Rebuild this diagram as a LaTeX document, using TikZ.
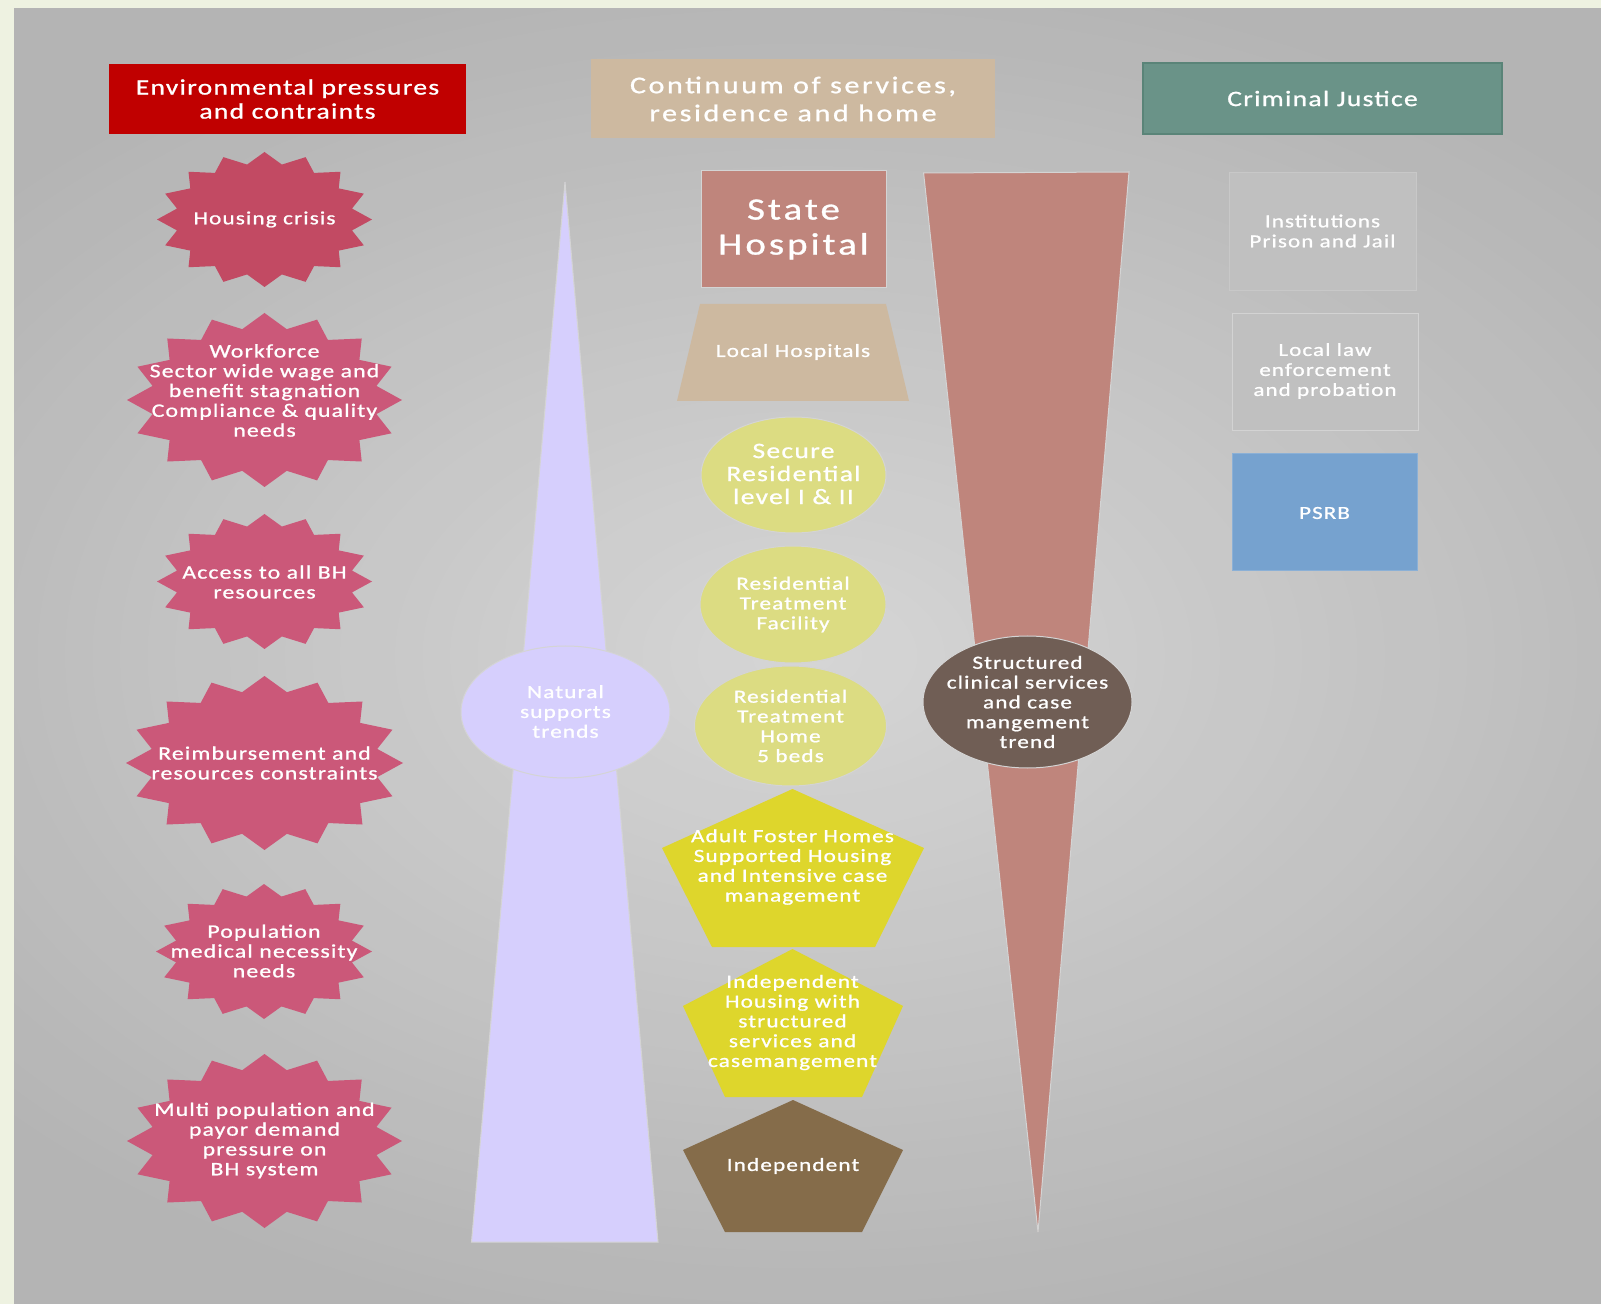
\documentclass[tikz,border=0pt]{standalone}
\usepackage{fontspec}
\setmainfont{Carlito}[FakeStretch=1.25, LetterSpace=6, FakeBold=1]
\usetikzlibrary{shapes.geometric}
\definecolor{framec}{RGB}{238,242,225}
\definecolor{bgin}{RGB}{214,214,214}
\definecolor{bgout}{RGB}{180,180,180}
\definecolor{hdrred}{RGB}{192,0,0}
\definecolor{tanc}{RGB}{205,185,160}
\definecolor{tealc}{RGB}{106,147,136}
\definecolor{tealb}{RGB}{90,132,120}
\definecolor{staterc}{RGB}{191,133,124}
\definecolor{ellyc}{RGB}{220,220,130}
\definecolor{pentyc}{RGB}{222,214,44}
\definecolor{brownc}{RGB}{133,108,74}
\definecolor{structc}{RGB}{112,94,85}
\definecolor{lavc}{RGB}{214,207,253}
\definecolor{psrbc}{RGB}{118,162,207}
\definecolor{stardk}{RGB}{194,74,99}
\definecolor{starc}{RGB}{203,88,121}
\definecolor{boxg}{RGB}{192,192,192}
\definecolor{boxb}{RGB}{200,200,200}
\newcommand\mystarshape[5]{% style, cx, cy, rx, ry
  \fill[#1] ({#2},{#3-#5})
    \foreach \k [evaluate=\k as \rr using {1-0.17*mod(\k,2)}] in {1,...,31} {
      -- ({#2+\rr*#4*sin(11.25*\k)},{#3-\rr*#5*cos(11.25*\k)})
    } -- cycle;
}
\tikzset{
  txt/.style={text=white, align=center, inner sep=0pt, font=\fontsize{9.3}{9.9}\selectfont},
  hdrtxt/.style={txt, font=\fontsize{11}{12}\selectfont},
  edgeline/.style={draw=black!17, line width=0.5pt},
}
\begin{document}
\begin{tikzpicture}[x=0.5pt, y=-0.5pt]
\useasboundingbox (0,0) rectangle (1601,1304);
% background
\begin{scope}
\clip (14,8) rectangle (1601,1304);
\fill[bgout] (14,8) rectangle (1601,1304);
\foreach \i [evaluate=\i as \d using {1-\i/40}, evaluate=\i as \p using {2.5*\i}] in {0,...,39}
  \fill[bgin!\p!bgout] (807.5,656) ellipse [x radius={1100*\d}, y radius={700*\d}];
\end{scope}
\fill[framec] (0,0) rectangle (1601,8);
\fill[framec] (0,0) rectangle (14,1304);

% headers
\fill[hdrred] (109,64) rectangle (466,134);
\node[hdrtxt] (h1) at (287.5,99) {Environmental pressures\\and contraints};
\fill[tanc] (591,59) rectangle (995,138);
\node[hdrtxt, font=\fontsize{12}{14}\selectfont\addfontfeatures{LetterSpace=11}] (h2) at (793,99) {Continuum of services,\\residence and home};
\filldraw[fill=tealc, draw=tealb, line width=0.8pt] (1143,63) rectangle (1502,134);
\node[hdrtxt] (h3) at (1322.5,98.5) {Criminal Justice};

% trend triangles
\filldraw[fill=lavc, edgeline] (565,182) -- (658,1242) -- (471.5,1242) -- cycle;
\filldraw[fill=staterc, edgeline] (923.6,173) -- (1129,172) -- (1038,1232) -- cycle;

% middle column
\filldraw[fill=staterc, edgeline] (701,171) rectangle (886,288);
\node[txt, font=\fontsize{15.5}{17.5}\selectfont\addfontfeatures{LetterSpace=10}] (sh) at (793.5,229.5) {State\\Hospital};
\fill[tanc] (700,304) -- (886,304) -- (909,401) -- (677,401) -- cycle;
\node[txt] (lh) at (793,352) {Local Hospitals};
\filldraw[fill=ellyc, edgeline] (793.5,475) ellipse [x radius=92.5, y radius=58];
\node[txt, font=\fontsize{11}{11.5}\selectfont] (sr) at (793.5,474) {Secure\\Residential\\level I \& II};
\filldraw[fill=ellyc, edgeline] (793,604.5) ellipse [x radius=93, y radius=58.5];
\node[txt] (rtf) at (793,604.5) {Residential\\Treatment\\Facility};
\filldraw[fill=ellyc, edgeline] (790.5,726) ellipse [x radius=96, y radius=60];
\node[txt] (rth) at (790.5,726) {Residential\\Treatment\\Home\\5 beds};
\fill[pentyc] (792.5,789) -- (924,848) -- (875,947) -- (712,947) -- (662,848) -- cycle;
\node[txt] (afh) at (792.5,867) {Adult Foster Homes\\Supported Housing\\and Intensive case\\management};
\fill[pentyc] (792.5,949) -- (903,1006) -- (862,1097) -- (725,1097) -- (683,1006) -- cycle;
\node[txt] (ihs) at (792.5,1022.5) {Independent\\Housing with\\structured\\services and\\casemangement};
\fill[brownc] (793,1100) -- (903,1150) -- (862,1232) -- (725,1232) -- (683,1150) -- cycle;
\node[txt] (ind) at (793,1166) {Independent};

% trend ellipses
\filldraw[fill=lavc, edgeline] (565.5,712) ellipse [x radius=104.5, y radius=66];
\node[txt] (nst) at (565.5,711.5) {Natural\\supports\\trends};
\filldraw[fill=structc, edgeline] (1027.5,702) ellipse [x radius=104.5, y radius=66];
\node[txt] (scs) at (1027.5,702) {Structured\\clinical services\\and case\\mangement\\trend};

% right column
\filldraw[fill=boxg, draw=boxb, line width=0.4pt] (1229,172) rectangle (1416,290);
\node[txt, font=\fontsize{9.2}{10}\selectfont] (inst) at (1322.5,231) {Institutions\\Prison and Jail};
\filldraw[fill=boxg, draw=boxg!70!white, line width=0.2pt] (1232,313) rectangle (1418,430);
\node[txt, font=\fontsize{9.2}{10}\selectfont] (llaw) at (1325,371) {Local law\\enforcement\\and probation};
\filldraw[fill=psrbc, draw=psrbc!85!white, line width=0.5pt] (1232,454) rectangle (1417,571);
\node[txt, font=\fontsize{9.2}{10}\selectfont] (psrb) at (1324.5,513) {PSRB};

% left column stars
\mystarshape{stardk}{264.5}{219.5}{107.5}{67.5}
\node[txt] (s1) at (264.5,219.5) {Housing crisis};
\mystarshape{starc}{264.5}{400}{137.5}{87}
\node[txt, font=\fontsize{9.5}{9.9}\selectfont] (s2) at (264.5,390.5) {Workforce\\Sector wide wage and\\benefit stagnation\\Compliance \& quality\\needs};
\mystarshape{starc}{264.5}{581.5}{107.5}{67.5}
\node[txt, font=\fontsize{9.5}{9.9}\selectfont] (s3) at (264.5,582) {Access to all BH\\resources};
\mystarshape{starc}{264.5}{763}{138.5}{87}
\node[txt, font=\fontsize{9.5}{9.9}\selectfont] (s4) at (264.5,763) {Reimbursement and\\resources constraints};
\mystarshape{starc}{264}{951.5}{108}{67.5}
\node[txt, font=\fontsize{9.5}{9.9}\selectfont] (s5) at (264,951) {Population\\medical necessity\\needs};
\mystarshape{starc}{264.5}{1141}{137.5}{87}
\node[txt, font=\fontsize{9.5}{9.9}\selectfont] (s6) at (264.5,1140.5) {Multi population and\\payor demand\\pressure on\\BH system};
\end{tikzpicture}
\end{document}
